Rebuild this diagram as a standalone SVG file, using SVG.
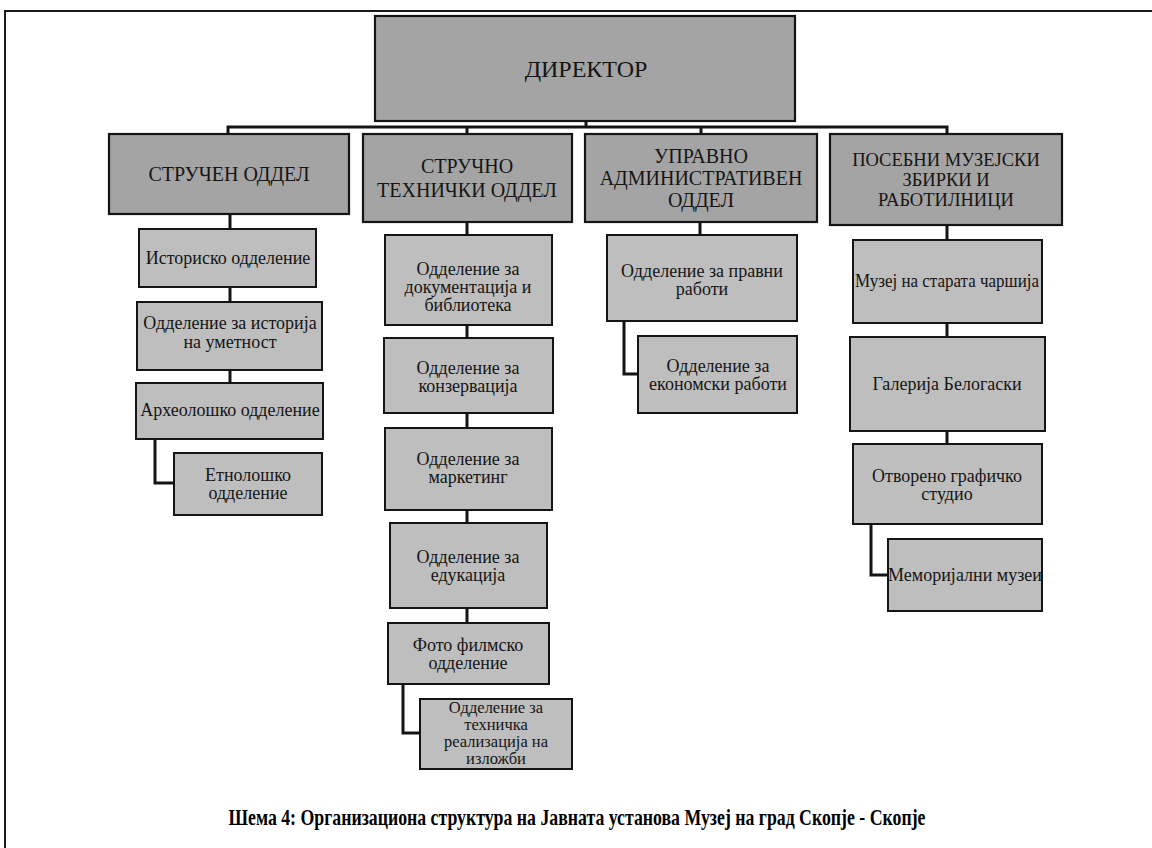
<svg xmlns="http://www.w3.org/2000/svg" width="1152" height="848" viewBox="0 0 1152 848">
<defs>
<style>
.bg{fill:#ffffff}
.frame{stroke:#1a1a1a;stroke-width:2;fill:none}
.main{fill:#a4a4a4;stroke:#141414;stroke-width:2.2}
.sub{fill:#bebebe;stroke:#141414;stroke-width:2}
.conn{stroke:#141414;stroke-width:3;fill:none;stroke-linejoin:miter}
text{font-family:"Liberation Serif","Times New Roman",serif;fill:#151515;text-anchor:middle}
.dir{font-size:24px}
.dep{font-size:20px}
.dep4{font-size:18.5px}
.s{font-size:18px}
.s2{font-size:16.5px}
.cap{font-family:"Liberation Serif","Times New Roman",serif;font-size:23px;font-weight:bold;fill:#000}
</style>
</defs>
<rect class="bg" x="0" y="0" width="1152" height="848"/>
<path class="frame" d="M5,848 V11 H1152"/>

<g id="connectors">
<path class="conn" d="M586,121 V127"/>
<path class="conn" d="M228,134 V127 H947 V134"/>
<path class="conn" d="M467,127 V134"/>
<path class="conn" d="M701,127 V134"/>
<path class="conn" d="M230,214 V229"/>
<path class="conn" d="M230,287 V302"/>
<path class="conn" d="M230,370 V383"/>
<path class="conn" d="M155,439 V483 H174"/>
<path class="conn" d="M467,222 V235"/>
<path class="conn" d="M467,325 V338"/>
<path class="conn" d="M467,413 V428"/>
<path class="conn" d="M467,510 V523"/>
<path class="conn" d="M467,608 V623"/>
<path class="conn" d="M403,684 V733 H420"/>
<path class="conn" d="M700,222 V235"/>
<path class="conn" d="M624,321 V374 H638"/>
<path class="conn" d="M947,225 V240"/>
<path class="conn" d="M947,323 V337"/>
<path class="conn" d="M947,431 V444"/>
<path class="conn" d="M871,524 V575 H888"/>
</g>

<g id="director">
<rect class="main" x="375" y="16" width="420" height="105"/>
<text class="dir" x="586" y="77">ДИРЕКТОР</text>
</g>

<g id="dept-strucen">
<rect class="main" x="109" y="134" width="240" height="80"/>
<text class="dep" x="229" y="181">СТРУЧЕН ОДДЕЛ</text>
</g>
<g id="dept-strucno-tehnicki">
<rect class="main" x="363" y="134" width="209" height="88"/>
<text class="dep" x="467" y="173">СТРУЧНО</text>
<text class="dep" x="467" y="197">ТЕХНИЧКИ ОДДЕЛ</text>
</g>
<g id="dept-upravno">
<rect class="main" x="585" y="134" width="232" height="88"/>
<text class="dep" x="701" y="163">УПРАВНО</text>
<text class="dep" x="701" y="185">АДМИНИСТРАТИВЕН</text>
<text class="dep" x="701" y="207">ОДДЕЛ</text>
</g>
<g id="dept-posebni">
<rect class="main" x="830" y="134" width="232" height="91"/>
<text class="dep4" x="946" y="166">ПОСЕБНИ МУЗЕЈСКИ</text>
<text class="dep4" x="946" y="186">ЗБИРКИ И</text>
<text class="dep4" x="946" y="206">РАБОТИЛНИЦИ</text>
</g>

<g id="istorisko">
<rect class="sub" x="139" y="229" width="177" height="58"/>
<text class="s" x="228" y="264">Историско одделение</text>
</g>
<g id="istorija-umetnost">
<rect class="sub" x="137" y="302" width="185" height="68"/>
<text class="s" x="230" y="329">Одделение за историја</text>
<text class="s" x="230" y="348">на уметност</text>
</g>
<g id="arheolosko">
<rect class="sub" x="136" y="383" width="187" height="56"/>
<text class="s" x="230" y="416">Археолошко одделение</text>
</g>
<g id="etnolosko">
<rect class="sub" x="174" y="453" width="148" height="62"/>
<text class="s" x="248" y="481">Етнолошко</text>
<text class="s" x="248" y="499">одделение</text>
</g>

<g id="dokumentacija">
<rect class="sub" x="385" y="235" width="167" height="90"/>
<text class="s" x="468" y="275">Одделение за</text>
<text class="s" x="468" y="293">документација и</text>
<text class="s" x="468" y="311">библиотека</text>
</g>
<g id="konzervacija">
<rect class="sub" x="384" y="338" width="169" height="75"/>
<text class="s" x="468" y="374">Одделение за</text>
<text class="s" x="468" y="392">конзервација</text>
</g>
<g id="marketing">
<rect class="sub" x="385" y="428" width="167" height="82"/>
<text class="s" x="468" y="465">Одделение за</text>
<text class="s" x="468" y="483">маркетинг</text>
</g>
<g id="edukacija">
<rect class="sub" x="390" y="523" width="157" height="85"/>
<text class="s" x="468" y="563">Одделение за</text>
<text class="s" x="468" y="581">едукација</text>
</g>
<g id="foto-filmsko">
<rect class="sub" x="388" y="623" width="161" height="61"/>
<text class="s" x="468" y="651">Фото филмско</text>
<text class="s" x="468" y="669">одделение</text>
</g>
<g id="tehnicka-realizacija">
<rect class="sub" x="420" y="699" width="152" height="70"/>
<text class="s2" x="496" y="713">Одделение за</text>
<text class="s2" x="496" y="730">техничка</text>
<text class="s2" x="496" y="747">реализација на</text>
<text class="s2" x="496" y="764">изложби</text>
</g>

<g id="pravni">
<rect class="sub" x="607" y="235" width="190" height="86"/>
<text class="s" x="702" y="277">Одделение за правни</text>
<text class="s" x="702" y="295">работи</text>
</g>
<g id="ekonomski">
<rect class="sub" x="638" y="336" width="159" height="77"/>
<text class="s" x="718" y="372">Одделение за</text>
<text class="s" x="718" y="390">економски работи</text>
</g>

<g id="stara-carsija">
<rect class="sub" x="853" y="240" width="189" height="83"/>
<text class="s" x="947" y="287" textLength="184" lengthAdjust="spacingAndGlyphs">Музеј на старата чаршија</text>
</g>
<g id="galerija">
<rect class="sub" x="850" y="337" width="195" height="94"/>
<text class="s" x="947" y="390">Галерија Белогаски</text>
</g>
<g id="graficko-studio">
<rect class="sub" x="853" y="444" width="189" height="80"/>
<text class="s" x="947" y="482">Отворено графичко</text>
<text class="s" x="947" y="500">студио</text>
</g>
<g id="memorijalni">
<rect class="sub" x="888" y="539" width="154" height="72"/>
<text class="s" x="965" y="581">Меморијални музеи</text>
</g>

<text class="cap" x="577" y="825" textLength="697" lengthAdjust="spacingAndGlyphs">Шема 4: Организациона структура на Јавната установа Музеј на град Скопје - Скопје</text>
</svg>
